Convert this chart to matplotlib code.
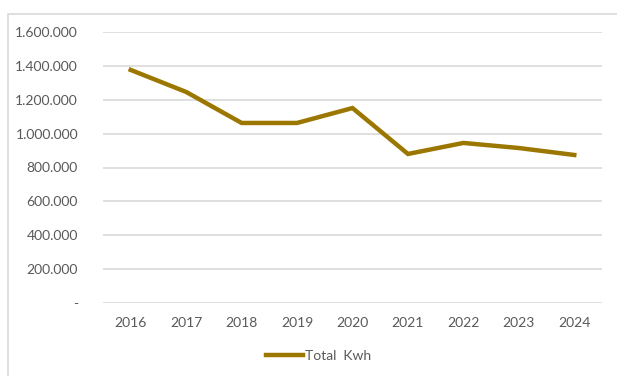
import matplotlib
matplotlib.use("Agg")
import matplotlib.pyplot as plt
from matplotlib.ticker import FuncFormatter, MultipleLocator
from matplotlib.patches import Rectangle

years = ["2016", "2017", "2018", "2019", "2020", "2021", "2022", "2023", "2024"]
total_kwh = [1376000, 1246000, 1063000, 1063000, 1151000, 880000, 945000, 915000, 874000]
series_name = "Total  Kwh"

plt.rcParams['font.family'] = ['Lato', 'DejaVu Sans']

fig = plt.figure(figsize=(6.17, 3.76), dpi=100)
fig.patch.set_facecolor("white")
fig.patches.append(Rectangle((8/617, -0.1), 1.2, 1 - 14/376 + 0.1, transform=fig.transFigure,
                             fill=False, edgecolor="#D9D9D9", linewidth=1.2))

ax = fig.add_axes([103/617, 1 - 303/376, (602-103)/617, (303-32)/376])
x = list(range(len(years)))
line, = ax.plot(x, total_kwh, color="#9C7700", linewidth=3.2, solid_joinstyle="miter", label=series_name)
ax.set_xlim(-0.5, len(years) - 0.5)
ax.set_ylim(0, 1600000)
ax.yaxis.set_major_locator(MultipleLocator(200000))

def fmt(v, pos):
    if v == 0:
        return "-"
    return f"{int(v):,}".replace(",", ".")

ax.yaxis.set_major_formatter(FuncFormatter(fmt))
ax.set_xticks(x)
ax.set_xticklabels(years)
ax.grid(axis="y", color="#D9D9D9", linewidth=1.2)
ax.set_axisbelow(True)
for s in ax.spines.values():
    s.set_visible(False)
ax.tick_params(axis="both", length=0, labelsize=10, labelcolor="#595959")
ax.tick_params(axis="y", pad=18)
ax.tick_params(axis="x", pad=10)

fig.legend(handles=[line], loc="center", bbox_to_anchor=(0.517, 1 - 356/376), frameon=False,
           fontsize=10, labelcolor="#595959", handlelength=2.6, handletextpad=0.2)

fig.savefig("out.png", dpi=100)
